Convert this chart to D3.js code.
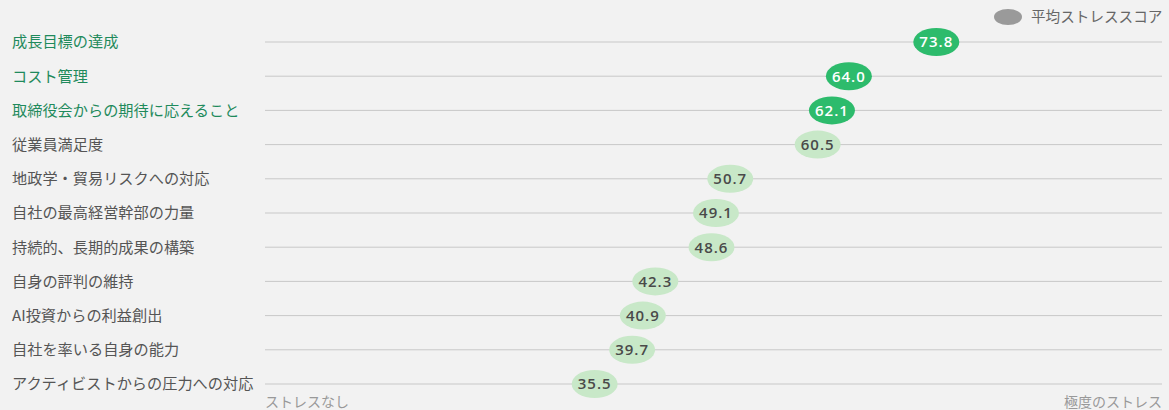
<!DOCTYPE html>
<html>
<head>
<meta charset="utf-8">
<script src="https://d3js.org/d3.v7.min.js"></script>
<style>
  body { margin: 0; background: #f2f2f2; }
  svg { display: block; font-family: "Noto Sans CJK JP", "Noto Sans", sans-serif; }
</style>
</head>
<body>
<svg width="1169" height="410"></svg>
<script>
    // categories, top to bottom
    var categories = [
        "成長目標の達成",
        "コスト管理",
        "取締役会からの期待に応えること",
        "従業員満足度",
        "地政学・貿易リスクへの対応",
        "自社の最高経営幹部の力量",
        "持続的、長期的成果の構築",
        "自身の評判の維持",
        "AI投資からの利益創出",
        "自社を率いる自身の能力",
        "アクティビストからの圧力への対応"
    ];
    var scores = [73.8, 64.0, 62.1, 60.5, 50.7, 49.1, 48.6, 42.3, 40.9, 39.7, 35.5];
    // top three are highlighted
    var highlighted = [true, true, true, false, false, false, false, false, false, false, false];
    var legendLabel = "平均ストレススコア";
    var axisLabels = ["ストレスなし", "極度のストレス"];

    var svg = d3.select("svg");

    var x = d3.scaleLinear().domain([0, 100]).range([278, 1170]);
    var y = d3.scalePoint().domain(categories).range([42, 384]);

    var data = categories.map(function(c, i) {
        return { name: c, value: scores[i], hi: highlighted[i] };
    });

    // grid lines
    svg.append("g")
        .selectAll("line")
        .data(data)
        .enter().append("line")
        .attr("x1", 265)
        .attr("x2", 1162)
        .attr("y1", function(d) { return y(d.name); })
        .attr("y2", function(d) { return y(d.name); })
        .attr("stroke", "#c8c8c8")
        .attr("stroke-width", 1);

    // category labels
    svg.append("g")
        .selectAll("text")
        .data(data)
        .enter().append("text")
        .attr("x", 12)
        .attr("y", function(d) { return y(d.name); })
        .attr("dy", "0.35em")
        .attr("font-size", 15.2)
        .attr("fill", function(d) { return d.hi ? "#1f8a5c" : "#555"; })
        .text(function(d) { return d.name; });

    // dots
    var dot = svg.append("g")
        .selectAll("g")
        .data(data)
        .enter().append("g")
        .attr("transform", function(d) { return "translate(" + x(d.value) + "," + y(d.name) + ")"; });

    dot.append("ellipse")
        .attr("rx", 23)
        .attr("ry", 14)
        .attr("fill", function(d) { return d.hi ? "#2dbb6c" : "#c8e8c8"; });

    dot.append("text")
        .attr("text-anchor", "middle")
        .attr("dy", "0.36em")
        .attr("font-family", "'Open Sans', sans-serif")
        .attr("font-weight", 600)
        .attr("font-size", 15)
        .attr("letter-spacing", 1)
        .attr("fill", function(d) { return d.hi ? "#fff" : "#4a4a4a"; })
        .text(function(d) { return d.value.toFixed(1); });

    // legend
    svg.append("ellipse")
        .attr("cx", 1008)
        .attr("cy", 17)
        .attr("rx", 14)
        .attr("ry", 8)
        .attr("fill", "#9a9a9a");
    svg.append("text")
        .attr("x", 1031)
        .attr("y", 17)
        .attr("dy", "0.35em")
        .attr("font-size", 14.6)
        .attr("fill", "#666")
        .text(legendLabel);

    // axis end labels
    svg.append("text")
        .attr("x", 265)
        .attr("y", 402)
        .attr("dy", "0.35em")
        .attr("font-size", 14)
        .attr("fill", "#999")
        .text(axisLabels[0]);
    svg.append("text")
        .attr("x", 1162)
        .attr("y", 402)
        .attr("dy", "0.35em")
        .attr("text-anchor", "end")
        .attr("font-size", 14)
        .attr("fill", "#999")
        .text(axisLabels[1]);
</script>
</body>
</html>
